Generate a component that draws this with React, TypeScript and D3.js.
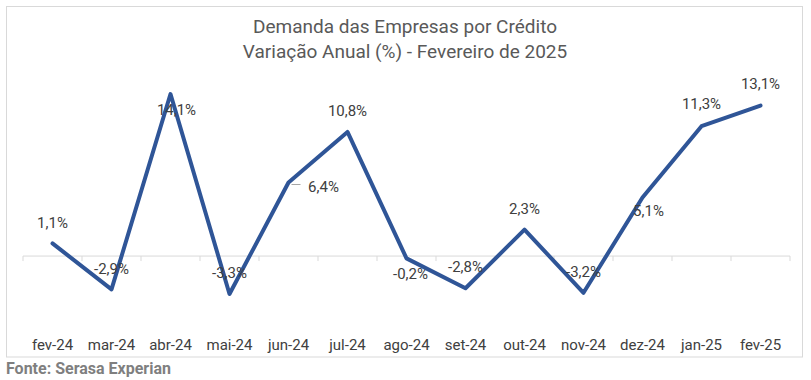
import React from "react";
import * as d3 from "d3";

const categories = ["fev-24","mar-24","abr-24","mai-24","jun-24","jul-24","ago-24","set-24","out-24","nov-24","dez-24","jan-25","fev-25"];
const values = [1.1,-2.9,14.1,-3.3,6.4,10.8,-0.2,-2.8,2.3,-3.2,5.1,11.3,13.1];
const titleLines = ["Demanda das Empresas por Crédito","Variação Anual (%) - Fevereiro de 2025"];
const sourceText = "Fonte: Serasa Experian";
// label placement: [dx, dy] relative to point (style)
const labelOffsets: [number, number][] = [
  [0,-21],[0,-21],[6,16],[0,-21],[35,4],[0,-21],[4,15],[0,-21],[0,-21],[0,-21],[6,13],[0,-22],[0,-22]
];

const W = 811, H = 380;
const FONT = "Roboto, 'Noto Sans', sans-serif";

export default function App() {
  const x = d3.scaleBand<string>().domain(categories).range([23, 790]);
  const y = d3.scaleLinear().domain([-5, 15]).range([313.5, 83.7]);
  const cx = (c: string) => (x(c) as number) + x.bandwidth() / 2;
  const line = d3.line<number>().x((_, i) => cx(categories[i])).y(v => y(v));
  const ticks = [...categories.map(c => x(c) as number), 790];
  const fmt = (v: number) => v.toFixed(1).replace(".", ",") + "%";
  return (
    <svg width={W} height={H} style={{ position: "absolute", left: 0, top: 0, display: "block" }}>
      <rect x={0} y={0} width={W} height={H} fill="#fff" />
      <rect x={6.5} y={6.5} width={796} height={350.5} fill="#fff" stroke="#d9d9d9" strokeWidth={1} />
      {titleLines.map((t, i) => (
        <text key={i} x={405} y={33 + i * 25} textAnchor="middle" fontFamily={FONT} fontSize={19} fill="#595959">{t}</text>
      ))}
      <line x1={23} x2={790} y1={y(0)} y2={y(0)} stroke="#d9d9d9" strokeWidth={1} />
      {ticks.map((t, i) => (
        <line key={i} x1={t} x2={t} y1={y(0)} y2={y(0) + 5} stroke="#d9d9d9" strokeWidth={1} />
      ))}
      <path d={line(values) || ""} fill="none" stroke="#2F5597" strokeWidth={4} strokeLinejoin="round" strokeLinecap="round" />
      <line x1={cx(categories[4]) + 3} x2={cx(categories[4]) + 12} y1={y(values[4]) + 2} y2={y(values[4]) + 2} stroke="#a6a6a6" strokeWidth={1} />
      {values.map((v, i) => (
        <text key={i} x={cx(categories[i]) + labelOffsets[i][0]} y={y(v) + labelOffsets[i][1]} dy="0.35em" textAnchor="middle"
          fontFamily={FONT} fontSize={15} fill="#404040">{fmt(v)}</text>
      ))}
      {categories.map((c) => (
        <text key={c} x={cx(c)} y={350} textAnchor="middle" fontFamily={FONT} fontSize={15} fill="#404040">{c}</text>
      ))}
      <text x={6} y={374} fontFamily={FONT} fontSize={16} fontWeight="bold" fill="#7f7f7f">{sourceText}</text>
    </svg>
  );
}
